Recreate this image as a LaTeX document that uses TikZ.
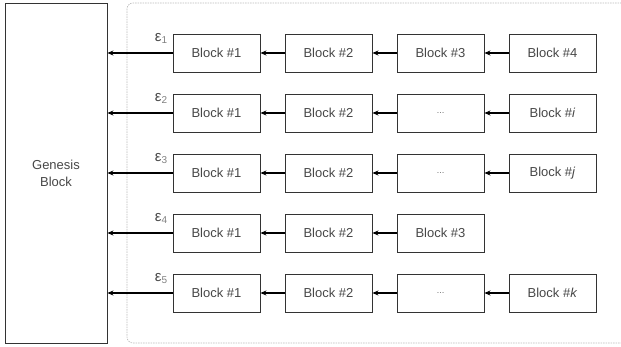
\documentclass[tikz,border=0pt]{standalone}
\usepackage{fontspec}
\setmainfont{Liberation Sans}
\usetikzlibrary{arrows.meta}
\definecolor{txt}{HTML}{474747}
\definecolor{edge}{HTML}{333333}
\definecolor{dashcol}{HTML}{BBBBBB}
\begin{document}
\begin{tikzpicture}[x=1pt,y=-1pt,
  blk/.style={draw=edge,line width=0.9pt,minimum width=87pt,minimum height=38pt,inner sep=0pt,text=txt,font=\fontsize{13}{14}\selectfont},
  gen/.style={draw=edge,line width=0.9pt,minimum width=102pt,minimum height=340pt,inner sep=0pt,text=txt,align=center,font=\fontsize{13}{17}\selectfont},
  link/.style={-{Stealth[length=6pt,width=5pt]},line width=1.2pt,black},
  eps/.style={text=txt,font=\fontsize{15}{16}\selectfont,inner sep=0pt,anchor=south}]
\useasboundingbox (0,0) rectangle (621,347);
\begin{scope}
\clip (0,0) rectangle (621,347);
\draw[draw=dashcol,dash pattern=on 1.5pt off 1pt,line width=0.6pt,rounded corners=6pt] (127,3) rectangle (640,343);
\end{scope}
\node[gen] (g) at (56,173) {Genesis\\Block};
\foreach \r/\y/\c in {1/53/Block \#3, 2/113/{\footnotesize\ldots}, 3/173/{\footnotesize\ldots}, 4/233/Block \#3, 5/293/{\footnotesize\ldots}}{
  \node[blk] (b\r a) at (216.5,\y) {Block \#1};
  \node[blk] (b\r b) at (328.5,\y) {Block \#2};
  \node[blk] (b\r c) at (440.5,\y) {\c};
  \draw[link] (b\r a.west) -- (g.east |- b\r a.west);
  \draw[link] (b\r b.west) -- (b\r a.east);
  \draw[link] (b\r c.west) -- (b\r b.east);
  \node[eps] (e\r) at (161,\y-9) {ε\textcolor{gray}{\fontsize{10}{10}\selectfont\raisebox{-2pt}{\r}}};
}
\foreach \r/\y/\d in {1/53/Block \#4, 2/113/Block \#\textit{i}, 3/173/Block \#\textit{j}, 5/293/Block \#\textit{k}}{
  \node[blk] (b\r d) at (552.5,\y) {\d};
  \draw[link] (b\r d.west) -- (b\r c.east);
}
\end{tikzpicture}
\end{document}
